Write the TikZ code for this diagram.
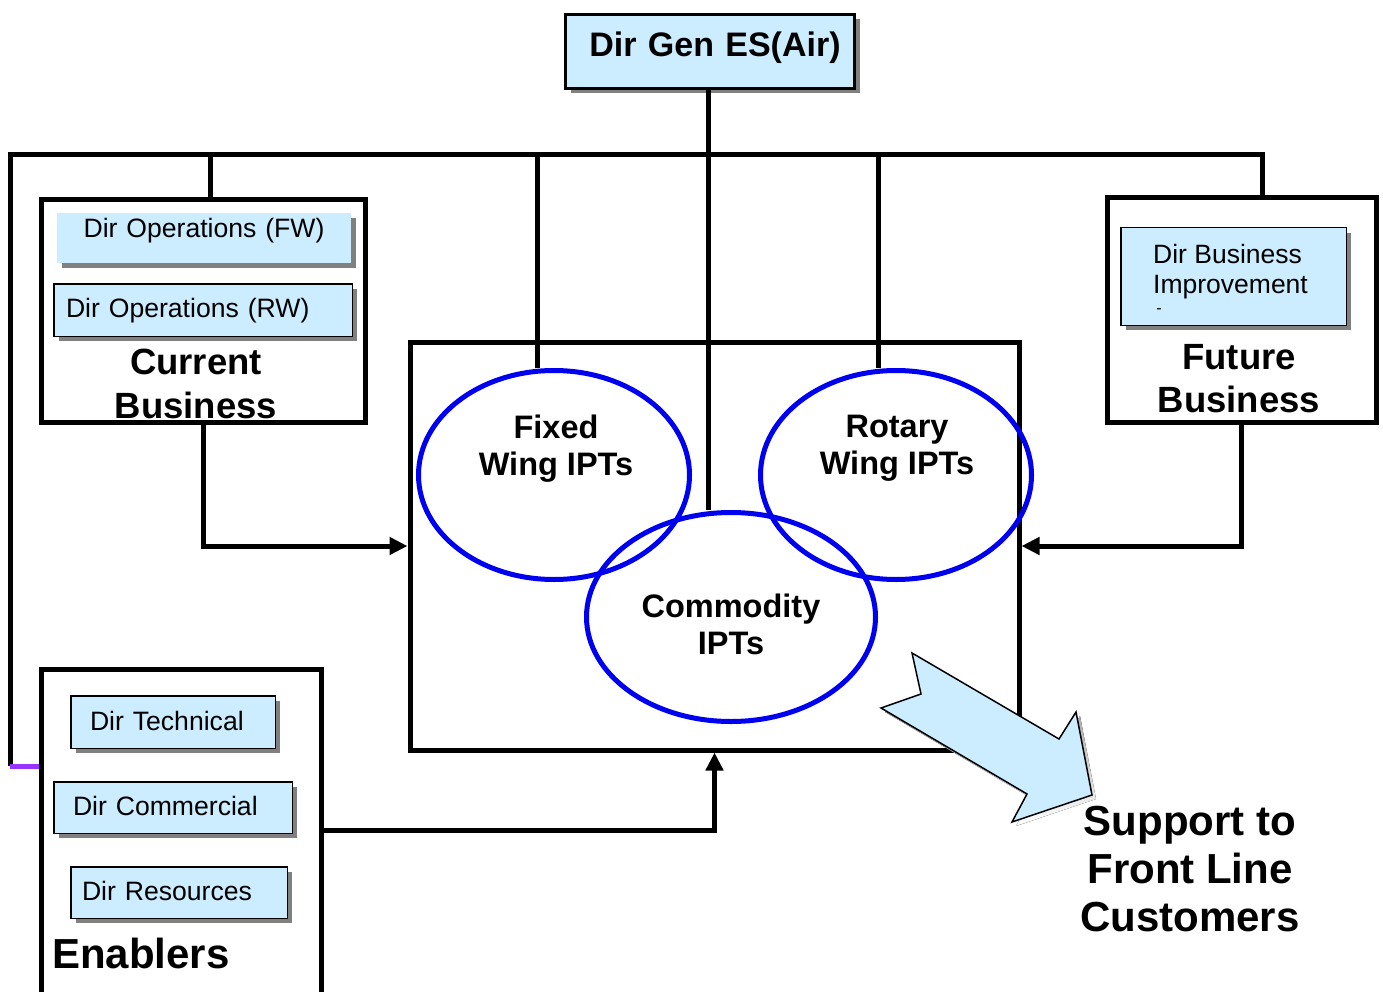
\documentclass[tikz,border=0pt]{standalone}
\usepackage{fontspec}
\setmainfont{Liberation Sans}
\usetikzlibrary{arrows.meta,shapes.geometric,shadows}
\definecolor{paleblue}{RGB}{204,236,255}
\definecolor{ringblue}{RGB}{0,0,240}
\definecolor{shade}{RGB}{128,128,128}
\definecolor{violetline}{RGB}{153,51,255}
\tikzset{
  wire/.style={line width=5pt},
  flow/.style={wire, -{Triangle[length=18pt,width=17pt]}},
  group/.style={draw, line width=5pt, inner sep=0pt},
  dirbox/.style={draw, line width=1.5pt, fill=paleblue, inner sep=0pt,
    font=\fontsize{26.6}{31}\selectfont,
    drop shadow={shadow xshift=5pt, shadow yshift=-5pt, fill=shade, opacity=1}},
  ring/.style={ellipse, draw=ringblue, line width=5pt, inner sep=0pt},
  ringtext/.style={align=center, inner sep=0pt, font=\fontsize{32.5}{37}\selectfont\bfseries},
  grouptext/.style={align=center, inner sep=0pt, font=\fontsize{36.5}{44}\selectfont\bfseries},
}
\begin{document}
\begin{tikzpicture}[x=1pt, y=-1pt]
\useasboundingbox (0,0) rectangle (1383,992);
\clip (0,0) rectangle (1383,992);

% group frames
\node[group, minimum width=324, minimum height=223] (cb) at (203,311) {};
\node[group, minimum width=269, minimum height=225] (fb) at (1241.5,310) {};
\node[group, minimum width=280, minimum height=400] (ena) at (181,869.5) {};
\node[group, minimum width=609, minimum height=408] (core) at (714.5,546) {};

% directorate boxes
\node[dirbox, line width=3pt, minimum width=289, minimum height=74,
      text width=289pt, align=center, text height=42.5pt, text depth=31.5pt,
      font=\fontsize{34}{40}\selectfont\bfseries] (dg) at (710,51.5) {\hspace*{10pt}Dir Gen ES(Air)};

\node[dirbox, draw=none, minimum width=294, text width=294pt, align=center,
      text height=25pt, text depth=25pt] (fw) at (204,238) {Dir Operations (FW)};
\node[dirbox, inner xsep=12.25pt, text width=274pt, align=left,
      text height=33.25pt, text depth=19.25pt] (rw) at (203,310) {Dir Operations (RW)};

\node[dirbox, minimum width=225.5, minimum height=97.5] (dbi) at (1233.5,276.5) {};
\node[anchor=west, align=left, inner sep=0pt, font=\fontsize{26.5}{30}\selectfont] (dbitxt) at (1153,271.75) {Dir Business\\Improvement};
\node[inner sep=0pt, font=\fontsize{16}{18}\selectfont] (dbidash) at (1159,311) {-};

\node[dirbox, inner xsep=19.25pt, text width=166pt, align=left,
      text height=34.25pt, text depth=18.25pt] (tech) at (173,722) {Dir Technical};
\node[dirbox, inner xsep=19.25pt, text width=200pt, align=left,
      text height=33.95pt, text depth=17.55pt] (comm) at (173,807.5) {Dir Commercial};
\node[dirbox, inner xsep=11.25pt, text width=194pt, align=left,
      text height=33.25pt, text depth=18.25pt] (res) at (179,892.5) {Dir Resources};

% IPT rings
\node[ring, minimum width=271, minimum height=209] (fix) at (554,475) {};
\node[ring, minimum width=271, minimum height=209] (rot) at (896,475) {};
\node[ring, minimum width=289, minimum height=209] (com) at (731,617) {};

% reporting lines
\coordinate (bend) at (10,766);
\coordinate (busR) at (1262,155);
\coordinate (tapA) at (210,155);
\coordinate (tapB) at (537,155);
\coordinate (tapC) at (878,155);
\coordinate (tapD) at (708,155);
\draw[wire] (bend) |- (busR) -- (busR |- fb.north);
\draw[wire, violetline] (bend) -- (bend -| ena.west);
\draw[wire] (tapD |- dg.south) -- (tapD |- com.north);
\draw[wire] (tapA) -- (tapA |- cb.north);
\draw[wire] (tapB) -- (tapB |- fix.north);
\draw[wire] (tapC) -- (tapC |- rot.north);

% flows into the IPT core
\coordinate (enaOut) at (ena.east |- 0,830);
\draw[flow] (cb.south) |- (core.west);
\draw[flow] (fb.south) |- (core.east);
\draw[flow] (enaOut) -| (core.south);

% labels
\node[grouptext] (cbt) at (196,384) {Current\\Business};
\node[grouptext, font=\fontsize{36.5}{43}\selectfont\bfseries] (fbt) at (1239,378.5) {Future\\Business};
\node[anchor=base west, inner sep=0pt, font=\fontsize{42}{48}\selectfont\bfseries] (enat) at (52,968) {Enablers};
\node[ringtext] (fixt) at (556,448.5) {Fixed\\Wing IPTs};
\node[ringtext] (rott) at (897,448.5) {Rotary\\Wing IPTs};
\node[ringtext] (comt) at (731,624.5) {Commodity\\IPTs};
\node[align=center, inner sep=0pt, font=\fontsize{42}{48}\selectfont\bfseries] (sup) at (1190,869) {Support to\\Front Line\\Customers};

% output arrow
\begin{scope}[shift={(4,4)}]
  \fill[shade] (912,653) -- (921,694) -- (881,708) -- (1027,794) -- (1012,822)
    -- (1092,795) -- (1076,712) -- (1059,739) -- cycle;
\end{scope}
\draw[fill=paleblue, line width=1.5pt, line join=miter] (912,653) -- (921,694) -- (881,708)
  -- (1027,794) -- (1012,822) -- (1092,795) -- (1076,712) -- (1059,739) -- cycle;
\end{tikzpicture}
\end{document}
